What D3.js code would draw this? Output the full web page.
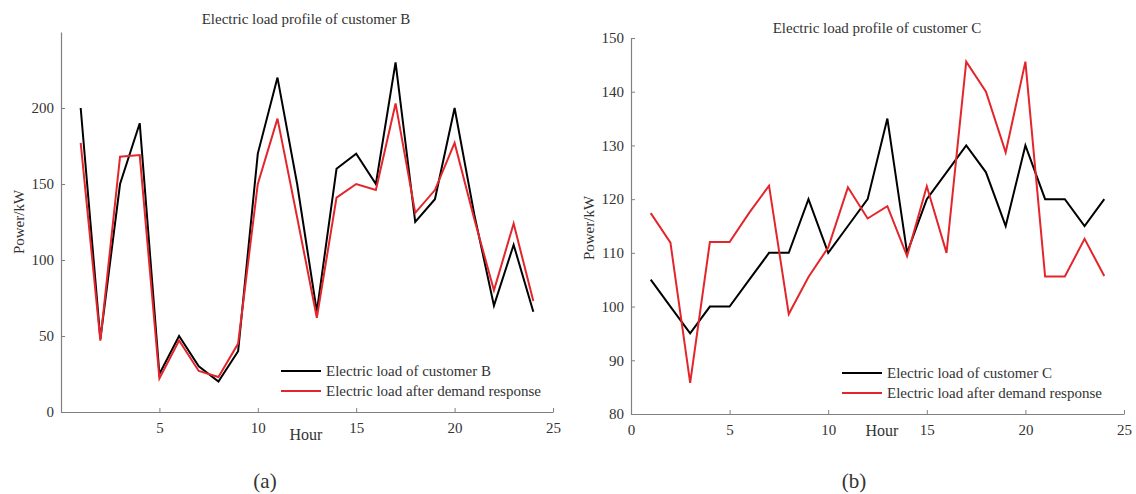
<!DOCTYPE html>
<html>
<head>
<meta charset="utf-8">
<script src="https://cdn.jsdelivr.net/npm/d3@7"></script>
<style>
  body { margin: 0; background: #fff; }
  svg text { font-family: "Liberation Serif", "Times New Roman", serif; fill: #333; }
</style>
</head>
<body>
<svg id="chart" width="1136" height="494"></svg>
<script>
// Hours of the day
const hours = [1, 2, 3, 4, 5, 6, 7, 8, 9, 10, 11, 12, 13, 14, 15, 16, 17, 18, 19, 20, 21, 22, 23, 24];

// Customer B load (kW) before and after demand response
const loadB = [200, 48, 150, 190, 25, 50, 30, 20, 40, 170, 220, 150, 66, 160, 170, 150, 230, 125, 140, 200, 130, 70, 110, 66];
const loadBAfter = [177, 47, 168, 169, 22, 47, 27, 23, 45, 150, 193, 128, 62, 141, 150, 146, 203, 131, 146, 177, 127, 80, 124, 73];

// Customer C load (kW) before and after demand response
const loadC = [105, 100, 95, 100, 100, 105, 110, 110, 120, 110, 115, 120, 135, 110, 120, 125, 130, 125, 115, 130, 120, 120, 115, 120];
const loadCAfter = [117.4, 111.9, 85.8, 112, 112, 117.5, 122.5, 98.6, 105.5, 111, 122.2, 116.4, 118.7, 109.4, 122.4, 110, 145.6, 140, 128.7, 145.6, 105.6, 105.6, 112.6, 105.7];

// Axis ticks
const xTicksB = [5, 10, 15, 20, 25];
const yTicksB = [0, 50, 100, 150, 200];
const xTicksC = [0, 5, 10, 15, 20, 25];
const yTicksC = [80, 90, 100, 110, 120, 130, 140, 150];

const svg = d3.select("#chart");
const serif = '"Liberation Serif", "Times New Roman", serif';
const axisColor = "#808080";
const black = "#000";
const red = "#e3262b";

// Draw one panel
function drawPanel(p) {
  const x = d3.scaleLinear().domain([0, 25]).range([p.left, p.right]);
  const y = d3.scaleLinear().domain(p.yDomain).range([p.bottom, p.top]);
  const g = svg.append("g");

  // Axes with small inward ticks
  const xAxis = g.append("g")
    .attr("transform", `translate(0,${p.bottom})`)
    .call(d3.axisBottom(x).tickValues(p.xTicks).tickSize(-4).tickPadding(10).tickSizeOuter(0));
  const yAxis = g.append("g")
    .attr("transform", `translate(${p.left},0)`)
    .call(d3.axisLeft(y).tickValues(p.yTicks).tickSize(-4).tickPadding(7).tickSizeOuter(0));
  [xAxis, yAxis].forEach((a) => {
    a.attr("font-family", serif);
    a.select(".domain").attr("stroke", axisColor).attr("stroke-width", 1.2);
    a.selectAll(".tick line").attr("stroke", axisColor);
    a.selectAll(".tick text")
      .attr("fill", "#333")
      .style("font-family", serif)
      .style("font-size", "15px");
  });

  // Lines
  const line = (vals) => d3.line()
    .x((d, i) => x(hours[i]))
    .y((d) => y(d))(vals);

  g.append("path")
    .attr("d", line(p.before))
    .attr("fill", "none")
    .attr("stroke", black)
    .attr("stroke-width", 2)
    .attr("stroke-linejoin", "miter");
  g.append("path")
    .attr("d", line(p.after))
    .attr("fill", "none")
    .attr("stroke", red)
    .attr("stroke-width", 2)
    .attr("stroke-linejoin", "miter");

  // Title
  g.append("text")
    .attr("x", p.titleX)
    .attr("y", p.titleY)
    .attr("text-anchor", "middle")
    .style("font-family", serif)
    .style("font-size", "15px")
    .text(p.title);

  // Axis labels
  g.append("text")
    .attr("x", p.hourX)
    .attr("y", p.hourY)
    .attr("text-anchor", "middle")
    .style("font-family", serif)
    .style("font-size", "16px")
    .text("Hour");

  g.append("text")
    .attr("transform", `translate(${p.ylabX},${p.ylabY}) rotate(-90)`)
    .attr("text-anchor", "middle")
    .attr("dy", "0.35em")
    .style("font-family", serif)
    .style("font-size", "15px")
    .text("Power/kW");

  // Legend
  const legend = [
    { label: p.legend1, color: black, y: p.legY },
    { label: "Electric load after demand response", color: red, y: p.legY + 20 },
  ];
  legend.forEach((d) => {
    g.append("line")
      .attr("x1", p.legX)
      .attr("x2", p.legX + 40)
      .attr("y1", d.y)
      .attr("y2", d.y)
      .attr("stroke", d.color)
      .attr("stroke-width", 2);
    g.append("text")
      .attr("x", p.legX + 45)
      .attr("y", d.y)
      .attr("dy", "0.35em")
      .style("font-family", serif)
      .style("font-size", "15px")
      .text(d.label);
  });

  // Sub-caption
  g.append("text")
    .attr("x", p.capX)
    .attr("y", 488)
    .attr("text-anchor", "middle")
    .style("font-family", serif)
    .style("font-size", "21px")
    .text(p.caption);
}

drawPanel({
  left: 61, right: 553, top: 32, bottom: 412,
  yDomain: [0, 250], xTicks: xTicksB, yTicks: yTicksB,
  before: loadB, after: loadBAfter,
  title: "Electric load profile of customer B", titleX: 306, titleY: 24,
  hourX: 306, hourY: 440, ylabX: 19, ylabY: 222,
  legend1: "Electric load of customer B", legX: 281, legY: 371,
  caption: "(a)", capX: 265,
});

drawPanel({
  left: 631, right: 1124, top: 38, bottom: 414,
  yDomain: [80, 150], xTicks: xTicksC, yTicks: yTicksC,
  before: loadC, after: loadCAfter,
  title: "Electric load profile of customer C", titleX: 877, titleY: 33,
  hourX: 882, hourY: 436, ylabX: 589, ylabY: 228,
  legend1: "Electric load of customer C", legX: 842, legY: 373,
  caption: "(b)", capX: 854,
});
</script>
</body>
</html>
